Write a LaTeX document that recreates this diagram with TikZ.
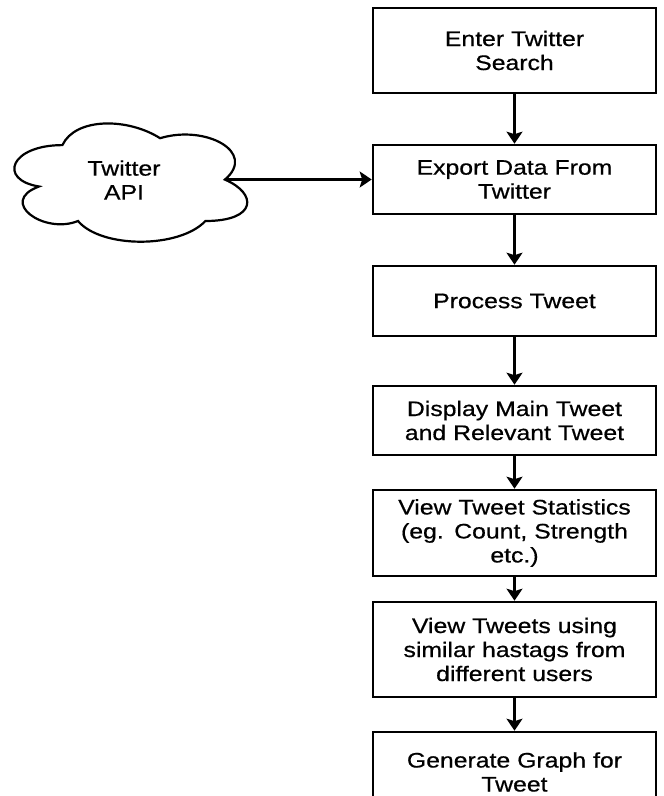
\documentclass[tikz,border=0pt]{standalone}
\usepackage{fontspec}
\setmainfont[FakeStretch=1.18,FakeBold=0.6]{Liberation Sans}
\usetikzlibrary{arrows.meta}
\begin{document}
\begin{tikzpicture}[x=1pt,y=-1pt,
  box/.style={draw=black, line width=2.6pt, fill=white, minimum width=283pt, inner sep=0pt,
    text width=275pt, align=center, font=\fontsize{21}{24}\selectfont},
  flow/.style={line width=2.8pt, -{Stealth[length=12pt,width=16pt,inset=2.5pt]}},
  cloudline/.style={draw=black, line width=2.2pt, fill=white}]
\useasboundingbox (0,0) rectangle (664,796);
\fill[white] (0,0) rectangle (664,796);
% cloud
\draw[cloudline] (62.4,145.1) .. controls (10.4,145.1) and (-2.6,179.6) .. (39.0,186.5)
 .. controls (-2.6,201.7) and (44.2,234.8) .. (78.0,221.0)
 .. controls (101.4,248.6) and (179.4,248.6) .. (205.4,221.0)
 .. controls (257.4,221.0) and (257.4,193.4) .. (224.9,179.6)
 .. controls (257.4,152.0) and (205.4,124.4) .. (160.1,138.2)
 .. controls (127.4,117.5) and (75.4,117.5) .. (62.4,145.1) -- cycle;
\node[align=center, inner sep=0pt, font=\fontsize{21}{24}\selectfont] (api) at (124,180) {Twitter\\API};
\coordinate (cn) at (226,179.5);
% boxes
\node[box, minimum height=85pt] (b1) at (514.5,50.5) {Enter Twitter\\Search};
\node[box, minimum height=69pt] (b2) at (514.5,179.5) {Export Data From\\Twitter};
\node[box, minimum height=70pt] (b3) at (514.5,301) {Process Tweet};
\node[box, minimum height=69pt] (b4) at (514.5,420.5) {Display Main Tweet\\and Relevant Tweet};
\node[box, minimum height=86pt] (b5) at (514.5,533) {View Tweet Statistics\\(eg. Count, Strength\\etc.)};
\node[box, minimum height=95pt] (b6) at (514.5,649.5) {View Tweets using\\similar hastags from\\different users};
\node[box, minimum height=80pt] (b7) at (514.5,772) {Generate Graph for\\Tweet};
% connectors
\draw[flow] (cn) -- (b2.west);
\draw[flow] (b1.south) -- (b2.north);
\draw[flow] (b2.south) -- (b3.north);
\draw[flow] (b3.south) -- (b4.north);
\draw[flow] (b4.south) -- (b5.north);
\draw[flow] (b5.south) -- (b6.north);
\draw[flow] (b6.south) -- (b7.north);
\end{tikzpicture}
\end{document}
